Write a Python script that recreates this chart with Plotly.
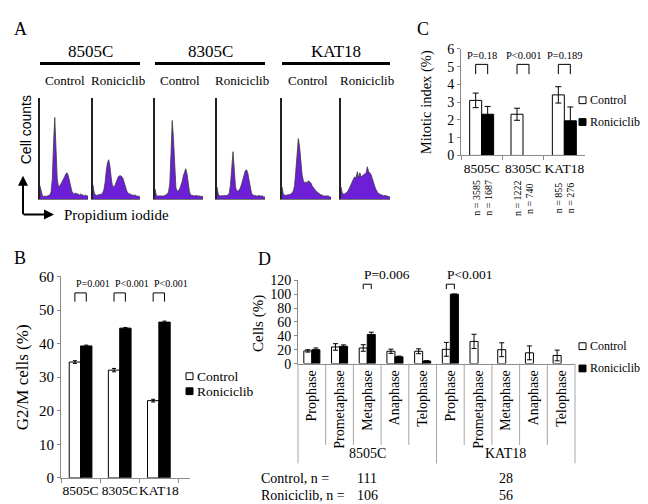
import plotly.graph_objects as go

W, H = 648, 504
SERIF = "Liberation Serif"
SANS = "Liberation Sans"
AXC = "#8c8c8c"


def fx(x):
    return x / W


def fy(y):
    return 1 - y / H


# ---------------- Panel A : DNA content histograms ----------------
cell_lines = ["8505C", "8305C", "KAT18"]
treatments = ["Control", "Roniciclib"]
pi_8505C_control = [0.13, 0.06, 0.03, 0.025, 0.03, 0.025, 0.03, 0.03, 0.04, 0.07,
                    0.2, 0.55, 0.81, 0.5, 0.2, 0.12, 0.13, 0.15, 0.17, 0.19,
                    0.22, 0.25, 0.26, 0.23, 0.17, 0.11, 0.07, 0.06, 0.05, 0.06,
                    0.05, 0.05, 0.04, 0.05, 0.04, 0.04, 0.03, 0.04, 0.03, 0.03]
pi_8505C_roniciclib = [0.14, 0.06, 0.04, 0.035, 0.04, 0.04, 0.045, 0.05, 0.06, 0.09,
                       0.16, 0.28, 0.36, 0.39, 0.33, 0.22, 0.14, 0.12, 0.13, 0.16,
                       0.2, 0.22, 0.23, 0.23, 0.22, 0.2, 0.16, 0.11, 0.08, 0.06,
                       0.05, 0.05, 0.04, 0.04, 0.035, 0.04, 0.03, 0.03, 0.025, 0.02]
pi_8305C_control = [0.1, 0.04, 0.03, 0.03, 0.025, 0.03, 0.03, 0.03, 0.035, 0.04,
                    0.05, 0.07, 0.15, 0.45, 0.78, 0.6, 0.25, 0.11, 0.08, 0.08,
                    0.1, 0.13, 0.17, 0.23, 0.28, 0.3, 0.25, 0.15, 0.07, 0.04,
                    0.035, 0.03, 0.03, 0.035, 0.03, 0.03, 0.03, 0.025, 0.03, 0.02]
pi_8305C_roniciclib = [0.12, 0.05, 0.03, 0.03, 0.03, 0.03, 0.03, 0.03, 0.035, 0.04,
                       0.06, 0.15, 0.38, 0.47, 0.3, 0.12, 0.08, 0.08, 0.09, 0.11,
                       0.15, 0.2, 0.25, 0.28, 0.29, 0.26, 0.19, 0.11, 0.06, 0.04,
                       0.035, 0.03, 0.03, 0.03, 0.035, 0.03, 0.03, 0.03, 0.02, 0.02]
pi_KAT18_control = [0.12, 0.05, 0.04, 0.035, 0.04, 0.04, 0.045, 0.05, 0.06, 0.08,
                    0.13, 0.28, 0.48, 0.6, 0.52, 0.36, 0.24, 0.18, 0.16, 0.17,
                    0.16, 0.18, 0.17, 0.16, 0.13, 0.11, 0.09, 0.08, 0.07, 0.06,
                    0.05, 0.04, 0.04, 0.03, 0.03, 0.03, 0.025, 0.03, 0.02, 0.02]
pi_KAT18_roniciclib = [0.12, 0.06, 0.05, 0.05, 0.06, 0.07, 0.09, 0.12, 0.15, 0.18,
                       0.2, 0.22, 0.21, 0.27, 0.21, 0.26, 0.22, 0.23, 0.24, 0.25,
                       0.26, 0.32, 0.27, 0.26, 0.24, 0.2, 0.15, 0.12, 0.09, 0.07,
                       0.05, 0.05, 0.04, 0.04, 0.03, 0.035, 0.03, 0.03, 0.025, 0.02]
hist_series = [pi_8505C_control, pi_8505C_roniciclib, pi_8305C_control,
               pi_8305C_roniciclib, pi_KAT18_control, pi_KAT18_roniciclib]

# ---------------- Panel B : G2/M cells ----------------
g2m_lines = ["8505C", "8305C", "KAT18"]
g2m_control = [34.5, 32.1, 23.0]
g2m_control_err = [0.4, 0.5, 0.4]
g2m_ronic = [39.3, 44.6, 46.4]
g2m_ronic_err = [0.25, 0.2, 0.3]
g2m_pvalues = ["P=0.001", "P<0.001", "P<0.001"]

# ---------------- Panel C : mitotic index ----------------
mit_lines = ["8505C", "8305C", "KAT18"]
mit_control = [3.1, 2.32, 3.41]
mit_control_err = [0.41, 0.34, 0.46]
mit_ronic = [2.32, None, 1.95]
mit_ronic_err = [0.44, 0, 0.78]
mit_pvalues = ["P=0.18", "P<0.001", "P=0.189"]
mit_n_control = ["n = 3585", "n = 1222", "n = 855"]
mit_n_ronic = ["n = 1687", "n = 740", "n = 276"]

# ---------------- Panel D : mitotic phases ----------------
phases = ["Prophase", "Prometaphase", "Metaphase", "Anaphase", "Telophase"]
phase_groups = ["8505C", "KAT18"]
phase_control = [18.3, 24, 22.5, 17.8, 17.8, 20.6, 32, 20, 15.5, 11.7]
phase_control_err = [1.7, 4.7, 4.7, 3, 3.5, 10, 10.3, 10, 10, 7.7]
phase_ronic = [20, 25, 42, 9.8, 3.7, 100, None, None, None, None]
phase_ronic_err = [2.5, 2, 3.3, 1, 0.5, 0, 0, 0, 0, 0]
phase_pvalues = {2: "P=0.006", 5: "P<0.001"}
n_row_control = ["111", "28"]
n_row_ronic = ["106", "56"]

# ---------------- layout geometry (pixels) ----------------
hist_x = [(32, 80), (85, 132), (147, 195), (209, 257), (274, 323), (333, 382)]
hist_y = (85, 189)
B_x, B_y = (53, 182), (269, 477)
C_x, C_y = (453, 577), (34, 144)
D_x, D_y = (290, 567), (273, 359)

fig = go.Figure()
layout = dict(width=W, height=H, margin=dict(l=0, r=0, t=0, b=0),
              paper_bgcolor="white", plot_bgcolor="white",
              showlegend=False, barmode="group", bargap=0.42, bargroupgap=0,
              font=dict(family=SERIF, color="black"))
annotations = []
shapes = []


def ann(text, x, y, size, xanchor="center", yanchor="middle", angle=0,
        family=SERIF, xref="paper", yref="paper"):
    annotations.append(dict(text=text, x=x, y=y, xref=xref, yref=yref,
                            showarrow=False, xanchor=xanchor, yanchor=yanchor,
                            textangle=angle,
                            font=dict(size=size, family=family, color="black")))


def dom(a, b, f):
    return [f(a), f(b)] if f is fx else [f(b), f(a)]


# ---- Panel A ----
for i, vals in enumerate(hist_series):
    k = i + 1
    xs = "" if k == 1 else str(k)
    fig.add_trace(go.Scatter(x=list(range(len(vals))), y=vals, mode="lines",
                             fill="tozeroy", fillcolor="#6c1fd6",
                             line=dict(color="#3c3c3c", width=0.8),
                             xaxis="x" + xs, yaxis="y" + xs, hoverinfo="skip"))
    layout["xaxis" + xs] = dict(domain=dom(*hist_x[i], fx), anchor="y" + xs,
                                range=[0, len(vals) - 1], showline=True,
                                linecolor="#777", linewidth=1, showticklabels=False,
                                ticks="", showgrid=False, zeroline=False)
    layout["yaxis" + xs] = dict(domain=dom(*hist_y, fy), anchor="x" + xs,
                                range=[0, 1], showline=True, linecolor="#222",
                                linewidth=1.5, showticklabels=False, ticks="",
                                showgrid=False, zeroline=False)

for j, name in enumerate(cell_lines):
    x0 = hist_x[2 * j][0]
    x1 = hist_x[2 * j + 1][1]
    ann(name, fx((x0 + x1) / 2), fy(37), 17)
    shapes.append(dict(type="line", xref="paper", yref="paper", x0=fx(x0), x1=fx(x1),
                       y0=fy(49), y1=fy(49), line=dict(color="black", width=3)))
    for t, tname in enumerate(treatments):
        hx = hist_x[2 * j + t]
        ann(tname, fx((hx[0] + hx[1]) / 2 + 1), fy(67), 13)

ann("A", fx(12), fy(13), 18)
ann("Cell counts", fx(18), fy(118), 14, angle=-90, family=SANS)
annotations.append(dict(x=fx(15), y=fy(165), xref="paper", yref="paper", ax=0, ay=40,
                        showarrow=True, arrowhead=2, arrowsize=1, arrowwidth=2,
                        arrowcolor="black", text=""))
annotations.append(dict(x=fx(46), y=fy(205), xref="paper", yref="paper", ax=-32, ay=0,
                        showarrow=True, arrowhead=2, arrowsize=1, arrowwidth=2,
                        arrowcolor="black", text=""))
ann("Propidium iodide", fx(54), fy(206), 15, xanchor="left")


def bar_axes(xid, yid, xd, yd, yrange, dtick, tickfont, xtickfont):
    layout["xaxis" + xid] = dict(domain=dom(*xd, fx), anchor="y" + yid,
                                 showline=True, linecolor=AXC, linewidth=1,
                                 ticks="outside", ticklen=4, tickcolor=AXC,
                                 showgrid=False, zeroline=False, tickangle=0,
                                 tickfont=dict(size=xtickfont, family=SERIF))
    layout["yaxis" + yid] = dict(domain=dom(*yd, fy), anchor="x" + xid,
                                 range=yrange, dtick=dtick, showline=True,
                                 linecolor=AXC, linewidth=1, ticks="outside",
                                 ticklen=3, tickcolor=AXC, showgrid=False,
                                 zeroline=False,
                                 tickfont=dict(size=tickfont, family=SERIF))


def legend_block(xbox, ytop, ygap, size):
    for r, (tname, fill) in enumerate(zip(treatments, ["white", "black"])):
        yc = ytop + r * ygap
        shapes.append(dict(type="rect", xref="paper", yref="paper",
                           x0=fx(xbox), x1=fx(xbox + 7), y0=fy(yc - 3.5), y1=fy(yc + 3.5),
                           fillcolor=fill, line=dict(color="black", width=1)))
        ann(tname, fx(xbox + 9), fy(yc), size, xanchor="left")


def bracket(xref, yref, xa, xb, ylo, yhi):
    for (a, b, c, d) in [(xa, ylo, xa, yhi), (xa, yhi, xb, yhi), (xb, yhi, xb, ylo)]:
        shapes.append(dict(type="line", xref=xref, yref=yref, x0=a, y0=b, x1=c, y1=d,
                           line=dict(color="black", width=1)))


half = (1 - 0.42) / 4  # centre offset of each bar in a group (category units)

# ---- Panel B ----
bar_axes("7", "7", B_x, B_y, [0, 60], 10, 15, 13.5)
layout["xaxis7"]["tickson"] = "boundaries"
fig.add_trace(go.Bar(x=g2m_lines, y=g2m_control, name="Control",
                     marker=dict(color="white", line=dict(color="black", width=1)),
                     error_y=dict(type="data", array=g2m_control_err, color="black",
                                  thickness=1, width=2),
                     xaxis="x7", yaxis="y7"))
fig.add_trace(go.Bar(x=g2m_lines, y=g2m_ronic, name="Roniciclib",
                     marker=dict(color="black", line=dict(color="black", width=1)),
                     error_y=dict(type="data", array=g2m_ronic_err, color="black",
                                  thickness=1, width=2),
                     xaxis="x7", yaxis="y7"))
for i, p in enumerate(g2m_pvalues):
    bracket("x7", "y7", i - half, i + half, 52.5, 55.1)
    ann(p, i - half - 0.03, 58.0, 10, xanchor="left", xref="x7", yref="y7")
ann("G2/M cells (%)", fx(14), fy(373), 17, angle=-90)
ann("B", fx(12), fy(250), 18)
legend_block(178, 372, 15.5, 13.5)

# ---- Panel C ----
bar_axes("8", "8", C_x, C_y, [0, 6], 1, 14, 13.5)
layout["xaxis8"]["tickson"] = "boundaries"
fig.add_trace(go.Bar(x=mit_lines, y=mit_control, name="Control",
                     marker=dict(color="white", line=dict(color="black", width=1)),
                     error_y=dict(type="data", array=mit_control_err, color="black",
                                  thickness=1, width=3),
                     xaxis="x8", yaxis="y8"))
fig.add_trace(go.Bar(x=mit_lines, y=mit_ronic, name="Roniciclib",
                     marker=dict(color="black", line=dict(color="black", width=1)),
                     error_y=dict(type="data", array=mit_ronic_err, color="black",
                                  thickness=1, width=3),
                     xaxis="x8", yaxis="y8"))
for i, p in enumerate(mit_pvalues):
    bracket("x8", "y8", i - half, i + half, 4.58, 5.13)
    ann(p, i, 5.62, 10.5, xref="x8", yref="y8")
    ann(mit_n_control[i], i - half, fy(188), 10, angle=-90, xref="x8")
    ann(mit_n_ronic[i], i + half, fy(188), 10, angle=-90, xref="x8")
ann("Mitotic index (%)", fx(418), fy(89), 14.5, angle=-90)
ann("C", fx(415), fy(13), 18)
legend_block(571, 87, 22.5, 12)

# ---- Panel D ----
ncat = len(phases) * len(phase_groups)
xpos = list(range(ncat))
bar_axes("9", "9", D_x, D_y, [0, 120], 20, 14, 14)
layout["xaxis9"].update(range=[-0.5, ncat - 0.5], tickmode="array", tickvals=xpos,
                        ticktext=phases * len(phase_groups), tickangle=-90, ticks="")
fig.add_trace(go.Bar(x=xpos, y=phase_control, name="Control",
                     marker=dict(color="white", line=dict(color="black", width=1)),
                     error_y=dict(type="data", array=phase_control_err, color="black",
                                  thickness=1, width=2.5),
                     xaxis="x9", yaxis="y9"))
fig.add_trace(go.Bar(x=xpos, y=phase_ronic, name="Roniciclib",
                     marker=dict(color="black", line=dict(color="black", width=1)),
                     error_y=dict(type="data", array=phase_ronic_err, color="black",
                                  thickness=1, width=2.5),
                     xaxis="x9", yaxis="y9"))
# category separators (inner) and group separators (outer)
for b in range(ncat + 1):
    edge = b % len(phases) == 0
    shapes.append(dict(type="line", xref="x9 domain", yref="paper",
                       x0=b / ncat, x1=b / ncat, y0=fy(D_y[1]),
                       y1=fy(462 if edge else 443),
                       line=dict(color="#a6a6a6", width=1)))
for g, gname in enumerate(phase_groups):
    gc = g * len(phases) + (len(phases) - 1) / 2
    ann(gname, gc, fy(452), 14, xref="x9")
    ann(n_row_control[g], gc, fy(478), 14, xref="x9")
    ann(n_row_ronic[g], gc, fy(495), 14, xref="x9")
ann("Control, n =", fx(251), fy(478), 14, xanchor="left")
ann("Roniciclib, n =", fx(251), fy(495), 14, xanchor="left")

for idx, p in phase_pvalues.items():
    shapes.append(dict(type="line", xref="x9", yref="paper", x0=idx - half, x1=idx - half,
                       y0=fy(282), y1=fy(277), line=dict(color="black", width=1)))
    shapes.append(dict(type="line", xref="x9", yref="paper", x0=idx - half, x1=idx + half,
                       y0=fy(277), y1=fy(277), line=dict(color="black", width=1)))
    shapes.append(dict(type="line", xref="x9", yref="paper", x0=idx + half, x1=idx + half,
                       y0=fy(277), y1=fy(282), line=dict(color="black", width=1)))
    ann(p, idx - half - 0.05, fy(267), 13.5, xanchor="left", xref="x9")
ann("Cells (%)", fx(251), fy(318), 15, angle=-90)
ann("D", fx(256), fy(251), 18)
legend_block(571, 341, 23, 12)

layout["annotations"] = annotations
layout["shapes"] = shapes
fig.update_layout(**layout)
fig.write_html("out.html")
